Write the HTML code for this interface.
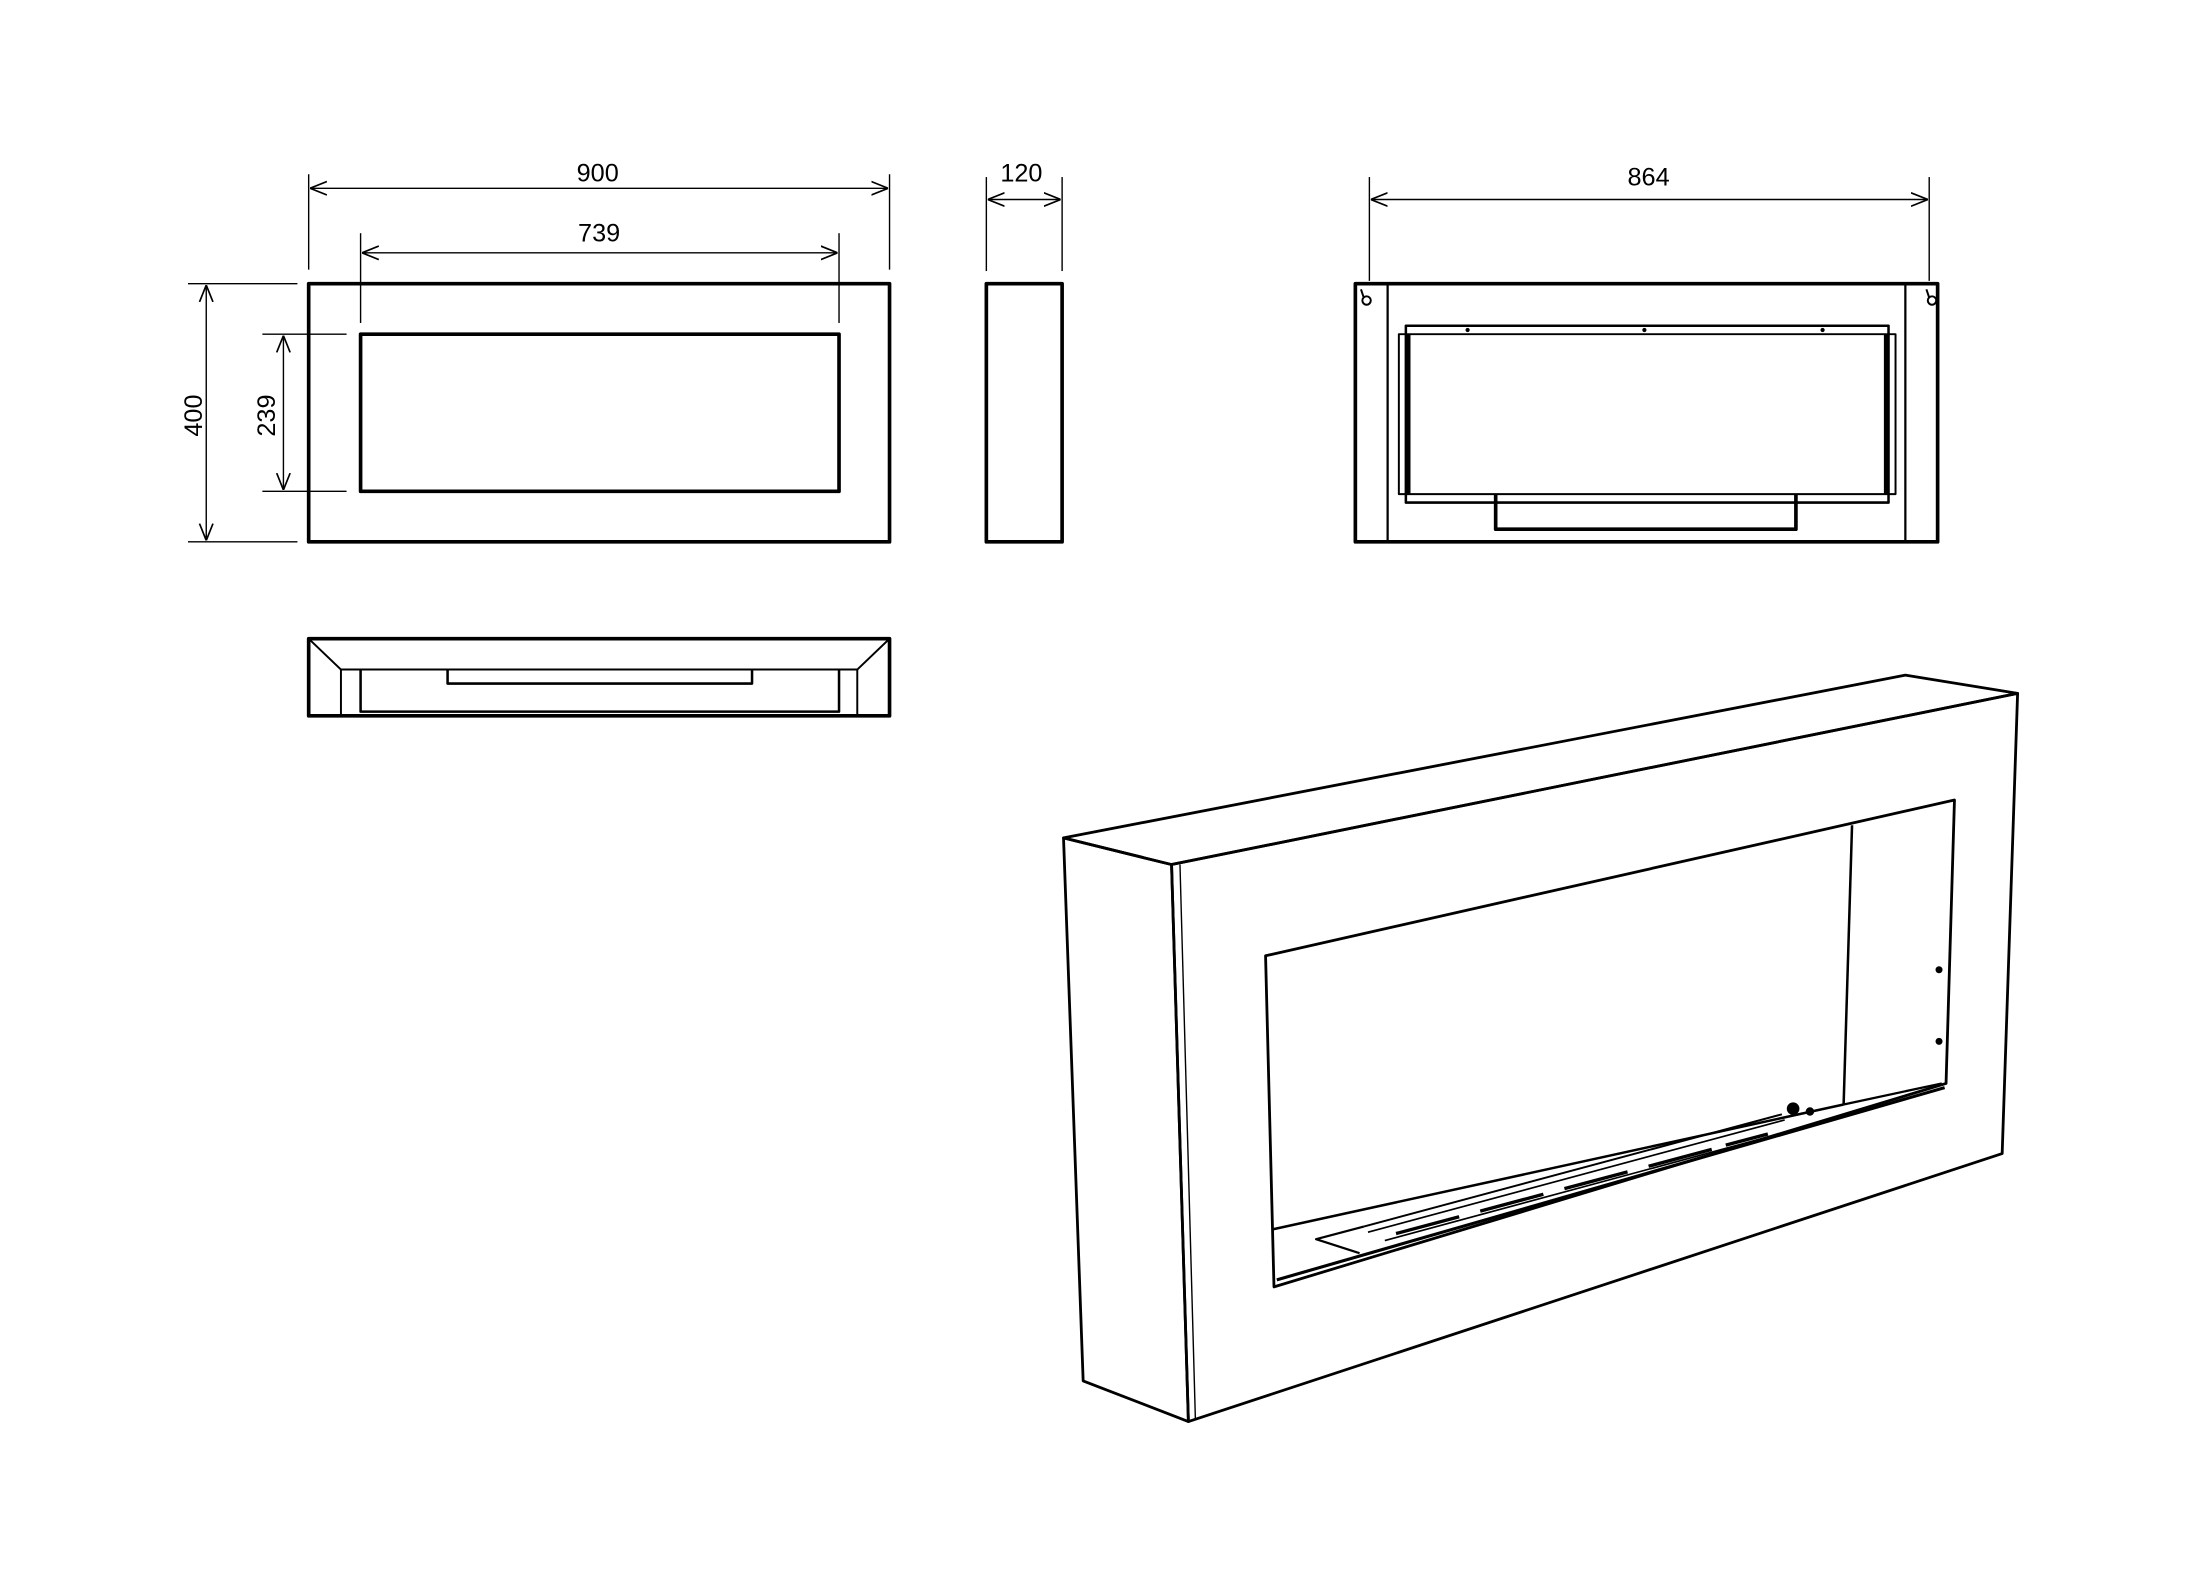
<!DOCTYPE html>
<html><head><meta charset="utf-8"><style>html,body{margin:0;padding:0;background:#fff}svg{display:block}</style></head>
<body>
<svg width="2200" height="1586" viewBox="0 0 1568 1130" xmlns="http://www.w3.org/2000/svg">
<defs>
<marker id="a" viewBox="0 0 10 10" refX="10" refY="5" markerWidth="12" markerHeight="12" markerUnits="userSpaceOnUse" orient="auto-start-reverse">
<path d="M0,1 L10,5 L0,9" fill="none" stroke="#000" stroke-width="1"/></marker>
</defs>
<g fill="none" stroke="#000" stroke-width="1">
<line x1="220" y1="124" x2="220" y2="192"/><line x1="634" y1="124" x2="634" y2="192"/>
<line x1="221" y1="134" x2="633" y2="134" marker-start="url(#a)" marker-end="url(#a)"/>
<line x1="257" y1="166" x2="257" y2="230"/><line x1="598" y1="166" x2="598" y2="230"/>
<line x1="258" y1="180" x2="597" y2="180" marker-start="url(#a)" marker-end="url(#a)"/>
<line x1="134" y1="202" x2="212" y2="202"/><line x1="134" y1="386" x2="212" y2="386"/>
<line x1="147" y1="203" x2="147" y2="385" marker-start="url(#a)" marker-end="url(#a)"/>
<line x1="187" y1="238" x2="247" y2="238"/><line x1="187" y1="350" x2="247" y2="350"/>
<line x1="202" y1="239" x2="202" y2="349" marker-start="url(#a)" marker-end="url(#a)"/>
<line x1="703" y1="126" x2="703" y2="193"/><line x1="757" y1="126" x2="757" y2="193"/>
<line x1="704" y1="142" x2="756" y2="142" marker-start="url(#a)" marker-end="url(#a)"/>
<line x1="976" y1="126" x2="976" y2="200"/><line x1="1375" y1="126" x2="1375" y2="200"/>
<line x1="977" y1="142" x2="1374" y2="142" marker-start="url(#a)" marker-end="url(#a)"/>
</g>
<g font-family="Liberation Sans, sans-serif" font-size="18" text-anchor="middle" fill="#000">
<text x="426" y="129">900</text><text x="427" y="172">739</text>
<text x="728" y="129">120</text><text x="1175" y="132">864</text>
<text transform="translate(144,296) rotate(-90)">400</text>
<text transform="translate(196,296) rotate(-90)">239</text>
</g>
<g fill="none" stroke="#000" stroke-width="2.6" stroke-linejoin="round">
<rect x="220" y="202" width="414" height="184"/>
<rect x="257" y="238" width="341" height="112"/>
<rect x="703" y="202" width="54" height="184"/>
<rect x="966" y="202" width="415" height="184"/>
<line x1="989" y1="202" x2="989" y2="386" stroke-width="1.6"/>
<line x1="1358" y1="202" x2="1358" y2="386" stroke-width="1.6"/>
<rect x="1002" y="232" width="344" height="126" stroke-width="1.8"/>
<rect x="997" y="238" width="354" height="114" stroke-width="1.4"/>
<line x1="1004" y1="238" x2="1004" y2="352"/><line x1="1344" y1="238" x2="1344" y2="352"/>
<polyline points="1066,352 1066,377 1280,377 1280,352"/>
<rect x="220" y="455" width="414" height="55"/>
<polyline points="220,455 243,477 611,477 634,455" stroke-width="1.4"/>
<line x1="243" y1="477" x2="243" y2="510" stroke-width="1.4"/>
<line x1="611" y1="477" x2="611" y2="510" stroke-width="1.4"/>
<polyline points="257,477 257,507 598,507 598,477" stroke-width="1.8"/>
<polyline points="319,477 319,487 536,487 536,477" stroke-width="1.8"/>
<polygon points="758,597 1358,481 1438,494 835,616" stroke-width="2"/>
<polygon points="835,616 1438,494 1427,822 847,1013" stroke-width="2"/>
<polygon points="758,597 835,616 847,1013 772,984" stroke-width="2"/>
<line x1="841" y1="616" x2="852" y2="1012" stroke-width="1"/>
<polygon points="902,681 1393,570 1387,772 908,917" stroke-width="2"/>
<line x1="1320" y1="588" x2="1314" y2="787" stroke-width="1.8"/>
<line x1="907" y1="876" x2="1314" y2="787" stroke-width="1.8"/>
<line x1="1314" y1="787" x2="1384" y2="772" stroke-width="1.6"/>
<line x1="910" y1="912" x2="1386" y2="775" stroke-width="2.2"/>
<polyline points="969,893 938,883 972,874" stroke-width="1.6"/>
<line x1="972" y1="874" x2="1270" y2="794" stroke-width="1.4"/>
<line x1="975" y1="878" x2="1272" y2="798" stroke-width="1.2"/>
<line x1="987" y1="884" x2="1268" y2="808" stroke-width="1.2"/>
<g stroke-width="2.4">
<line x1="995" y1="879" x2="1040" y2="867"/><line x1="1055" y1="863" x2="1100" y2="851"/>
<line x1="1115" y1="847" x2="1160" y2="835"/><line x1="1175" y1="831" x2="1220" y2="819"/>
<line x1="1230" y1="816" x2="1260" y2="808"/>
</g>
</g>
<g fill="#000">
<circle cx="1382" cy="691" r="2.5"/><circle cx="1382" cy="742" r="2.5"/>
<circle cx="1278" cy="790" r="4.5"/><circle cx="1290" cy="792" r="3"/>
<circle cx="1046" cy="235" r="1.5"/><circle cx="1172" cy="235" r="1.5"/><circle cx="1299" cy="235" r="1.5"/>
</g>
<g fill="none" stroke="#000" stroke-width="1.4">
<circle cx="974" cy="214" r="3"/><line x1="970" y1="206" x2="972" y2="212"/>
<circle cx="1377" cy="214" r="3"/><line x1="1373" y1="206" x2="1375" y2="212"/>
</g>
</svg>
</body></html>
